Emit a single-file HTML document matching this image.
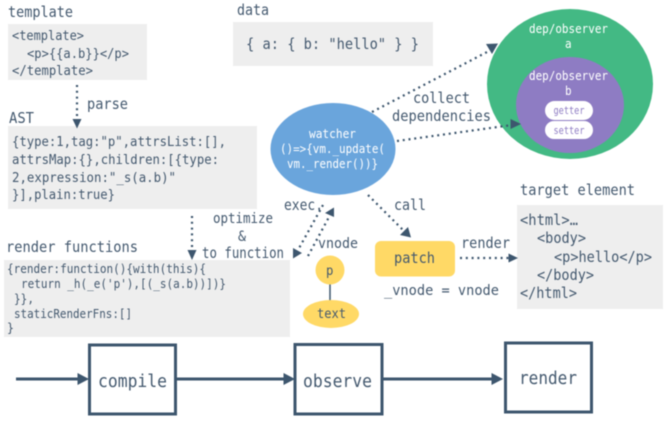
<!DOCTYPE html>
<html><head><meta charset="utf-8"><style>
html,body{margin:0;padding:0;background:#fff;width:668px;height:423px;overflow:hidden}
svg{display:block;filter:blur(.4px)}
text{font-family:"DejaVu Sans Mono","Liberation Mono",monospace;fill:#44596f;white-space:pre}
.dot{stroke:#3d566e;stroke-width:2.2;stroke-dasharray:2 3.8;fill:none}
.ah{fill:#3d566e}
.w{fill:#fff}
.bx{fill:#fff;stroke:#3d566e;stroke-width:3}
.ln{stroke:#3d566e;stroke-width:3;fill:none}
</style></head><body>
<svg xmlns="http://www.w3.org/2000/svg" width="668" height="423" viewBox="0 0 668 423">
<rect x="8" y="24" width="139" height="56" fill="#eee"/>
<rect x="8" y="126" width="249" height="83" fill="#eee"/>
<rect x="4" y="260" width="286" height="77" fill="#eee"/>
<rect x="233" y="22" width="200" height="44" fill="#eee"/>
<rect x="517" y="205" width="146" height="104" fill="#eee"/>

<g font-size="15">
<text x="8" y="17" textLength="65" lengthAdjust="spacingAndGlyphs">template</text>
<text x="237" y="15" textLength="32" lengthAdjust="spacingAndGlyphs">data</text>
<text x="87" y="109" textLength="41" lengthAdjust="spacingAndGlyphs">parse</text>
<text x="9" y="123" textLength="25" lengthAdjust="spacingAndGlyphs">AST</text>
<text x="6" y="252" textLength="132" lengthAdjust="spacingAndGlyphs">render functions</text>
<text x="520" y="195" textLength="115" lengthAdjust="spacingAndGlyphs">target element</text>
<text x="413" y="103" textLength="57" lengthAdjust="spacingAndGlyphs">collect</text>
<text x="392" y="121" textLength="99" lengthAdjust="spacingAndGlyphs">dependencies</text>
<text x="284" y="210" textLength="39" lengthAdjust="spacingAndGlyphs">exec.</text>
<text x="394" y="210" textLength="32" lengthAdjust="spacingAndGlyphs">call</text>
<text x="318" y="248" font-size="14" textLength="40" lengthAdjust="spacingAndGlyphs">vnode</text>
<text x="461" y="248" textLength="49" lengthAdjust="spacingAndGlyphs">render</text>
<text x="384" y="295" font-size="14" textLength="115" lengthAdjust="spacingAndGlyphs">_vnode = vnode</text>
<text x="213" y="223" font-size="14" textLength="60" lengthAdjust="spacingAndGlyphs">optimize</text>
<text x="238" y="241" font-size="14" textLength="8" lengthAdjust="spacingAndGlyphs">&amp;</text>
<text x="202" y="258" textLength="82" lengthAdjust="spacingAndGlyphs">to function</text>
</g>

<g font-size="13.3">
<text x="12" y="40" textLength="72" lengthAdjust="spacingAndGlyphs">&lt;template&gt;</text>
<text x="27" y="58" textLength="102" lengthAdjust="spacingAndGlyphs">&lt;p&gt;{{a.b}}&lt;/p&gt;</text>
<text x="12" y="75" textLength="81" lengthAdjust="spacingAndGlyphs">&lt;/template&gt;</text>
<text x="12" y="146" textLength="214" lengthAdjust="spacingAndGlyphs">{type:1,tag:"p",attrsList:[],</text>
<text x="12" y="164" textLength="207" lengthAdjust="spacingAndGlyphs">attrsMap:{},children:[{type:</text>
<text x="12" y="182" textLength="164" lengthAdjust="spacingAndGlyphs">2,expression:"_s(a.b)"</text>
<text x="12" y="199" textLength="103" lengthAdjust="spacingAndGlyphs">}],plain:true}</text>
</g>

<g font-size="12.2">
<text x="7" y="273" textLength="199" lengthAdjust="spacingAndGlyphs">{render:function(){with(this){</text>
<text x="21" y="288" textLength="205" lengthAdjust="spacingAndGlyphs">return _h(_e('p'),[(_s(a.b))])}</text>
<text x="14" y="303" textLength="20" lengthAdjust="spacingAndGlyphs">}},</text>
<text x="14" y="318" textLength="118" lengthAdjust="spacingAndGlyphs">staticRenderFns:[]</text>
<text x="7" y="332" textLength="7" lengthAdjust="spacingAndGlyphs">}</text>
</g>

<text x="246" y="49" font-size="15" textLength="173" lengthAdjust="spacingAndGlyphs">{ a: { b: "hello" } }</text>

<!-- target -->
<g font-size="15">
<text x="520" y="225" textLength="58" lengthAdjust="spacingAndGlyphs">&lt;html&gt;…</text>
<text x="537" y="243" textLength="49" lengthAdjust="spacingAndGlyphs">&lt;body&gt;</text>
<text x="554" y="262" textLength="98" lengthAdjust="spacingAndGlyphs">&lt;p&gt;hello&lt;/p&gt;</text>
<text x="537" y="280" textLength="57" lengthAdjust="spacingAndGlyphs">&lt;/body&gt;</text>
<text x="520" y="298" textLength="57" lengthAdjust="spacingAndGlyphs">&lt;/html&gt;</text>
</g>

<!-- watcher -->
<ellipse cx="333" cy="149" rx="62.5" ry="46" fill="#6aa5dc"/>
<g font-size="12.3">
<text class="w" x="309" y="138" textLength="47" lengthAdjust="spacingAndGlyphs">watcher</text>
<text class="w" x="280" y="153" textLength="105" lengthAdjust="spacingAndGlyphs">()=&gt;{vm._update(</text>
<text class="w" x="287" y="168" textLength="91" lengthAdjust="spacingAndGlyphs">vm._render())}</text>
</g>

<!-- dep -->
<ellipse cx="570" cy="84" rx="83" ry="75" fill="#43b984"/>
<ellipse cx="570" cy="105" rx="54" ry="48" fill="#8e7cc3"/>
<g font-size="12.3">
<text class="w" x="529" y="33" textLength="79" lengthAdjust="spacingAndGlyphs">dep/observer</text>
<text class="w" x="565" y="48" textLength="6.6" lengthAdjust="spacingAndGlyphs">a</text>
<text class="w" x="529" y="80" textLength="79" lengthAdjust="spacingAndGlyphs">dep/observer</text>
<text class="w" x="565" y="95" textLength="6.6" lengthAdjust="spacingAndGlyphs">b</text>
</g>
<rect x="545" y="101" width="48" height="19" rx="9.5" fill="#fff"/>
<rect x="545" y="121" width="48" height="18" rx="9" fill="#fff"/>
<text x="553.5" y="114" font-size="10.5" textLength="31" lengthAdjust="spacingAndGlyphs" style="fill:#8e7cc3">getter</text>
<text x="553.5" y="134" font-size="10.5" textLength="31" lengthAdjust="spacingAndGlyphs" style="fill:#8e7cc3">setter</text>

<!-- patch & vnode -->
<rect x="375" y="241" width="80" height="35.5" rx="6" fill="#ffd966"/>
<text x="394" y="263" font-size="15" textLength="41" lengthAdjust="spacingAndGlyphs">patch</text>
<line x1="330" y1="280" x2="330" y2="302" stroke="#3d566e" stroke-width="1.5"/>
<circle cx="330" cy="270" r="14.5" fill="#ffd966"/>
<text x="326" y="275" font-size="13" textLength="7.4" lengthAdjust="spacingAndGlyphs">p</text>
<ellipse cx="331" cy="314" rx="28" ry="14" fill="#ffd966"/>
<text x="317" y="318" font-size="13" textLength="29" lengthAdjust="spacingAndGlyphs">text</text>

<!-- dotted connectors -->
<line class="dot" x1="77" y1="85" x2="77" y2="120"/>
<polygon class="ah" points="72.5,119 81.5,119 77,128.5"/>
<line class="dot" x1="192" y1="216" x2="192" y2="251"/>
<polygon class="ah" points="187.5,250 196.5,250 192,260"/>
<line class="dot" x1="372" y1="112" x2="489" y2="51"/>
<polygon class="ah" points="486,44 498,43.5 492,54"/>
<line class="dot" x1="397" y1="141" x2="512" y2="125"/>
<polygon class="ah" points="510.5,119 521,124 510.5,129"/>
<line class="dot" x1="323" y1="205" x2="298" y2="250"/>
<polygon class="ah" points="293,258.5 293,248 302,253"/>
<line class="dot" x1="308" y1="256" x2="329" y2="217"/>
<polygon class="ah" points="334,207.5 334,217 325,213"/>
<line class="dot" x1="368" y1="195" x2="404" y2="231"/>
<polygon class="ah" points="411,237.5 400,235 408,227"/>
<line class="dot" x1="460" y1="258" x2="509" y2="258"/>
<polygon class="ah" points="508.5,253.5 518,258 508.5,262.5"/>

<!-- pipeline -->
<rect class="bx" x="89.5" y="345" width="86" height="69"/>
<rect class="bx" x="295" y="344.5" width="87" height="69.5"/>
<rect class="bx" x="505.5" y="343" width="86" height="69"/>
<line class="ln" x1="16" y1="379" x2="80" y2="379"/>
<polygon class="ah" points="77.5,373 89,379 77.5,385"/>
<line class="ln" x1="176" y1="379" x2="286" y2="379"/>
<polygon class="ah" points="283.5,373 295,379 283.5,385"/>
<line class="ln" x1="383" y1="379" x2="494" y2="379"/>
<polygon class="ah" points="491.5,373 503,379 491.5,385"/>
<g font-size="18">
<text x="98" y="387" textLength="69" lengthAdjust="spacingAndGlyphs">compile</text>
<text x="303" y="387" textLength="69" lengthAdjust="spacingAndGlyphs">observe</text>
<text x="519" y="384" textLength="58" lengthAdjust="spacingAndGlyphs">render</text>
</g>
</svg>
</body></html>
